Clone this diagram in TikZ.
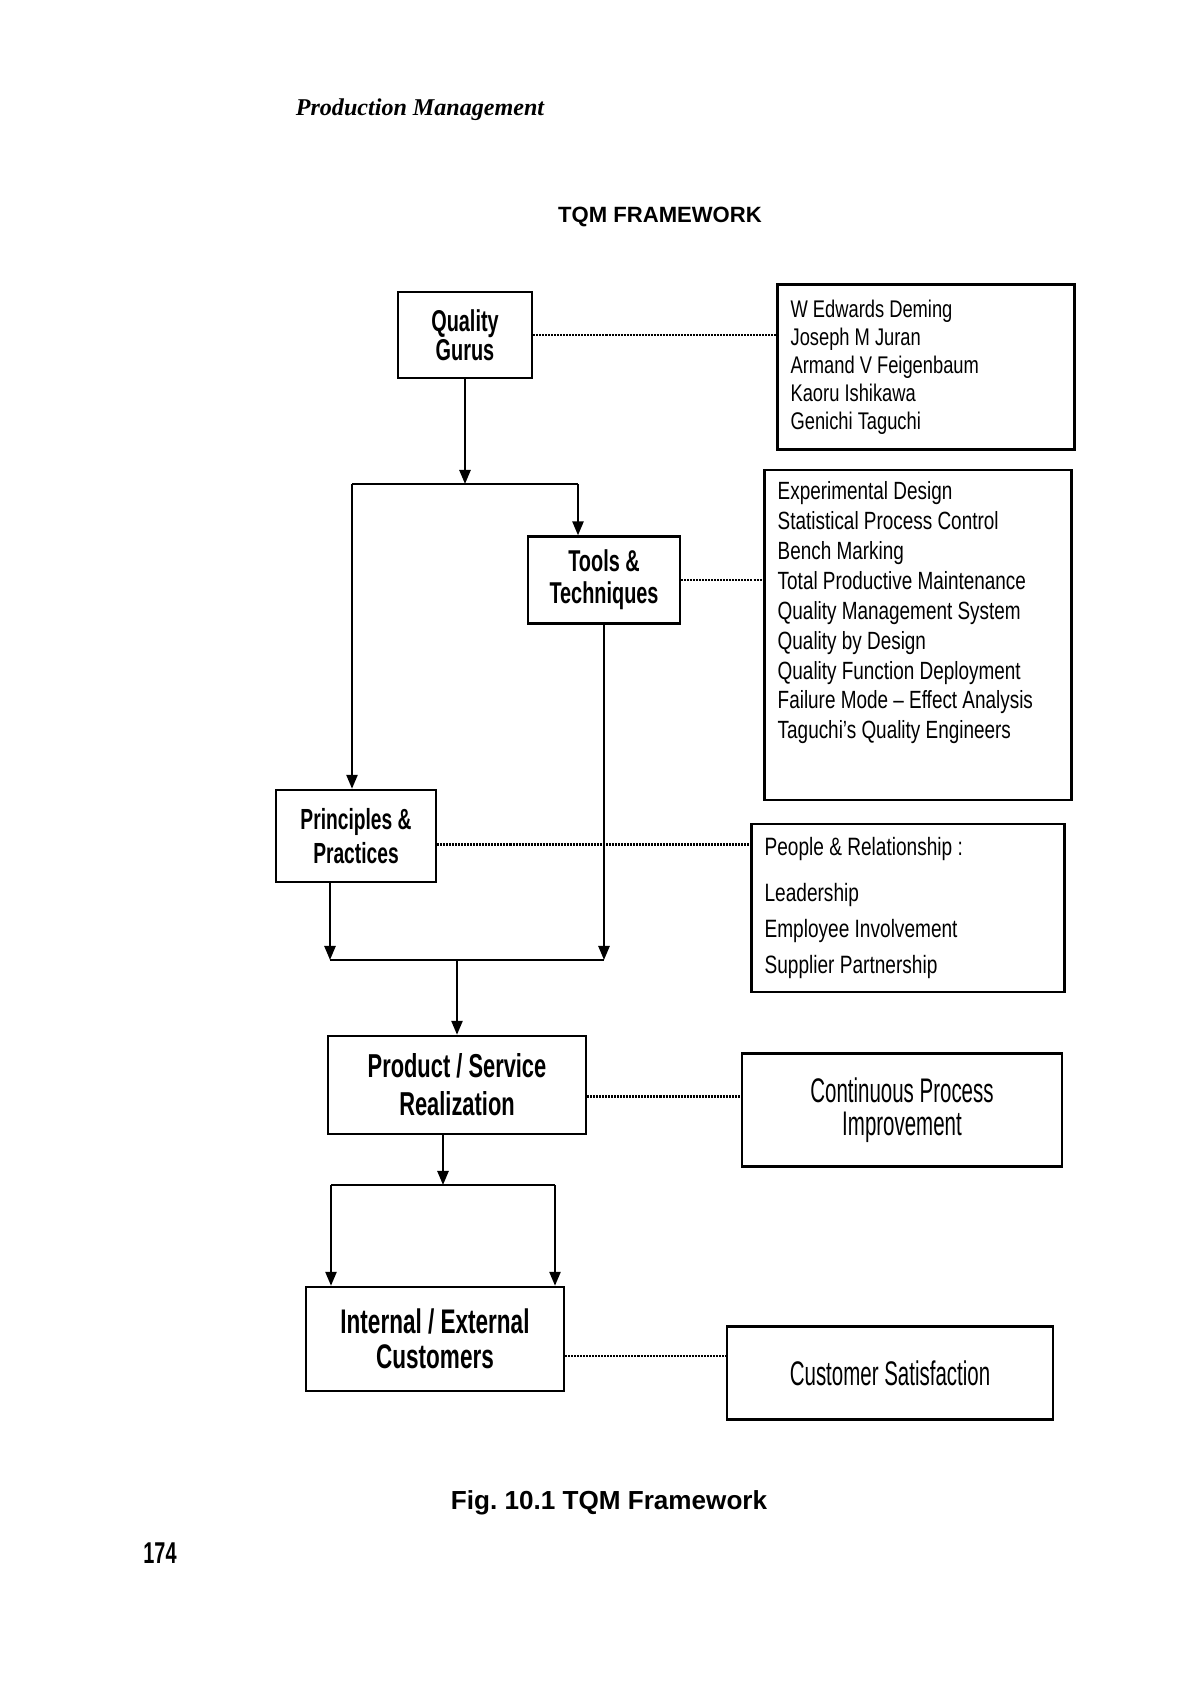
\documentclass[tikz,border=0pt]{standalone}
\usepackage{fontspec}
\setmainfont{Liberation Sans}
\newfontfamily\headfont{Liberation Serif}
\newfontfamily\boxfont[FakeStretch=0.66]{Liberation Sans}
\newfontfamily\listfont[FakeStretch=0.76]{Liberation Sans}
\newfontfamily\notefont[FakeStretch=0.6]{Liberation Sans}
\usetikzlibrary{arrows.meta}
\frenchspacing

\begin{document}
\begin{tikzpicture}[x=0.0175cm,y=-0.0175cm,
    box/.style={draw,line width=1.2pt,inner sep=0pt,align=center},
    listbox/.style={draw,line width=1.2pt,inner xsep=0.23cm,inner ysep=0pt,align=flush left},
    dots/.style={line width=1.2pt,dash pattern=on 1pt off 0.5pt},
    link/.style={line width=1.2pt},
    arrow/.style={link,-{Triangle[length=7pt,width=5.5pt]}}]
    % page, A4 in pixels of the scan
    \fill[white] (0,0) rectangle (1200,1697);
    \useasboundingbox (0,0) rectangle (1200,1697);
    \node (header) at (420,110) {\headfont\bfseries\itshape\fontsize{12}{14}\selectfont Production Management};
    \node (title) at (660,217) {\bfseries\fontsize{11}{13}\selectfont TQM FRAMEWORK};
    % left column
    \node[box,minimum width=2.345cm,minimum height=1.505cm,font=\boxfont\bfseries\fontsize{15}{14.5}\selectfont] (gurus) at (465,335) {Quality\\Gurus};
    \node[box,minimum width=2.66cm,minimum height=1.52cm,font=\boxfont\bfseries\fontsize{15}{16}\selectfont] (tools) at (604,580) {Tools \&\\Techniques};
    \node[box,minimum width=2.8cm,minimum height=1.61cm,font=\boxfont\bfseries\fontsize{14.5}{17}\selectfont] (principles) at (356,836) {Principles \&\\Practices};
    \node[box,minimum width=4.515cm,minimum height=1.715cm,font=\boxfont\bfseries\fontsize{16.5}{19}\selectfont] (product) at (457,1085) {Product / Service\\Realization};
    \node[box,minimum width=4.515cm,minimum height=1.82cm,font=\boxfont\bfseries\fontsize{17}{17.5}\selectfont] (customers) at (435,1339) {Internal / External\\Customers};
    % right column
    \node[listbox,text width=4.74cm,minimum height=2.89cm,font=\listfont\fontsize{12}{14}\selectfont] (guruList) at (926,367) {W Edwards Deming\\Joseph M Juran\\Armand V Feigenbaum\\Kaoru Ishikawa\\Genichi Taguchi};
    \node[listbox,text width=4.91cm,font=\listfont\fontsize{12.4}{14.9}\selectfont] (toolList) at (918,635) {\parbox[c][5.775cm][t]{4.91cm}{\vspace*{0.2cm}Experimental Design\\Statistical Process Control\\Bench Marking\\Total Productive Maintenance\\Quality Management System\\Quality by Design\\Quality Function Deployment\\Failure Mode – Effect Analysis\\Taguchi’s Quality Engineers}};
    \node[listbox,text width=5.02cm,minimum height=2.94cm,font=\listfont\fontsize{12.5}{18}\selectfont] (people) at (908,908) {People \& Relationship :\\[5pt]Leadership\\Employee Involvement\\Supplier Partnership};
    \node[box,minimum width=5.6cm,minimum height=1.98cm,font=\notefont\fontsize{17}{16.5}\selectfont] (improve) at (902,1110) {Continuous Process\\Improvement};
    \node[box,minimum width=5.7cm,minimum height=1.63cm,font=\notefont\fontsize{17}{18}\selectfont] (satisfaction) at (890,1373) {Customer Satisfaction};
    % branch and merge points
    \coordinate (split) at (352,484);
    \coordinate (toolsIn) at (578,484);
    \coordinate (merge) at (330,960);
    \coordinate (fork) at (443,1185);
    \coordinate (custL) at (331,1185);
    \coordinate (custR) at (555,1185);
    \draw[arrow] (gurus.south) -- (gurus.south |- split);
    \draw[link] (split) -- (toolsIn);
    \draw[arrow] (split) -- (split |- principles.north);
    \draw[arrow] (toolsIn) -- (toolsIn |- tools.north);
    \draw[arrow] (merge |- principles.south) -- (merge);
    \draw[arrow] (tools.south) -- (tools.south |- merge);
    \draw[link] (merge) -- (tools.south |- merge);
    \draw[arrow] (product.north |- merge) -- (product.north);
    \draw[arrow] (fork |- product.south) -- (fork);
    \draw[link] (custL) -- (custR);
    \draw[arrow] (custL) -- (custL |- customers.north);
    \draw[arrow] (custR) -- (custR |- customers.north);
    % dotted links to the lists
    \draw[dots] (gurus.east) -- (gurus.east -| guruList.west);
    \draw[dots] (tools.east) -- (tools.east -| toolList.west);
    \draw[dots] ([yshift=-0.15cm]principles.east) -- ([yshift=-0.15cm]principles.east -| people.west);
    \draw[dots] ([yshift=-0.2cm]product.east) -- ([yshift=-0.2cm]product.east -| improve.west);
    \draw[dots] ([yshift=-0.3cm]customers.east) -- ([yshift=-0.3cm]customers.east -| satisfaction.west);
    \node (caption) at (609,1503) {\bfseries\fontsize{13}{15}\selectfont Fig. 10.1 TQM Framework};
    \node (pageno) at (160,1553) {\boxfont\bfseries\fontsize{15}{17}\selectfont 174};
\end{tikzpicture}
\end{document}
